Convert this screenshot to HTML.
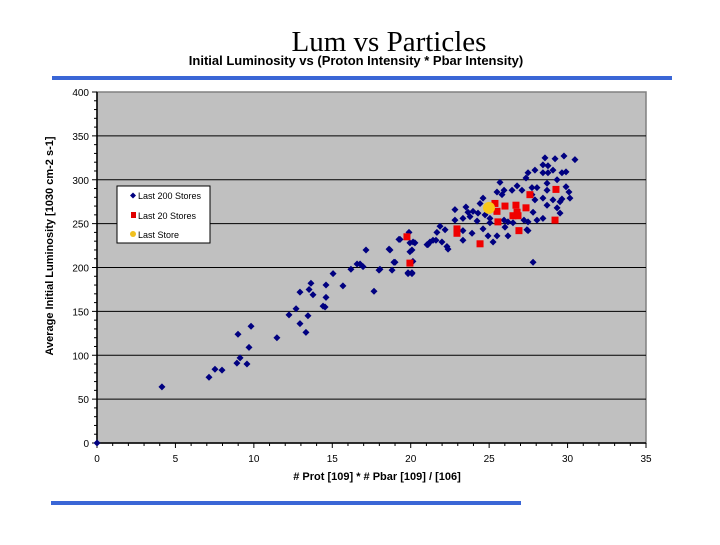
<!DOCTYPE html>
<html><head><meta charset="utf-8"><style>
body{margin:0;background:#fff;}
svg text{font-family:"Liberation Sans",Arial,sans-serif;}
</style></head><body>
<svg id="chart" width="720" height="540" viewBox="0 0 720 540" xmlns="http://www.w3.org/2000/svg">
<text x="389" y="51" text-anchor="middle" font-family="Liberation Serif" style="font-family:'Liberation Serif',serif" font-size="29">Lum vs Particles</text>
<text x="356" y="65" text-anchor="middle" font-size="13" font-weight="bold">Initial Luminosity  vs  (Proton Intensity * Pbar Intensity)</text>
<rect x="52" y="76" width="620" height="4" fill="#3a66d6"/>
<rect x="51" y="501" width="470" height="4" fill="#3a66d6"/>
<rect x="97" y="92" width="549" height="351" fill="#c0c0c0" stroke="#808080" stroke-width="1.5"/>
<g id="grid"></g><g id="axes"></g><g id="marks"></g>
<text transform="translate(53,246) rotate(-90)" text-anchor="middle" font-size="11" font-weight="bold">Average Initial Luminosity  [1030 cm-2 s-1]</text>
<text x="377" y="480" text-anchor="middle" font-size="11" font-weight="bold"># Prot  [109] * # Pbar [109] / [106]</text>
<g>
<rect x="117" y="186" width="93" height="57" fill="#fff" stroke="#000" stroke-width="1"/>
<path d="M133,192.5 l3,3 -3,3 -3,-3z" fill="#000080"/>
<text x="138" y="199" font-size="9">Last 200  Stores</text>
<rect x="131" y="212" width="5" height="6" fill="#e00000"/>
<text x="138" y="219" font-size="9">Last   20 Stores</text>
<circle cx="133" cy="234" r="3" fill="#f0c020"/>
<text x="138" y="238" font-size="9">Last Store</text>
</g>
</svg>
<script>
const blueX=[0,4.14,7.14,7.52,7.97,8.92,9.12,8.99,9.56,9.69,9.82,11.47,12.24,12.69,12.94,12.94,13.32,13.45,13.52,13.64,13.77,14.41,14.54,14.6,14.6,15.05,15.68,16.19,16.58,16.77,16.96,17.15,17.66,17.98,18.68,18.81,18.93,19.25,19.89,19.95,19.83,20.08,20.14,20.27,19.95,21.04,21.23,21.61,21.67,
28.56,29.2,29.77,30.47,28.43,28.75,29.07,29.64,29.9,28.43,28.75,29.33,27.48,27.92,27.35,25.69,26.78,27.73,28.05,28.69,28.69,29.9,30.09,30.15,29.64,29.52,25.5,25.82,25.95,26.46,27.09,27.73,27.92,28.43,28.69,29.07,29.33,29.52,28.43,28.05,24.61,24.42,23.52,22.82,23.65,23.97,24.29,23.78,23.33,22.82,24.23,24.74,25.05,25.05,25.95,26.01,26.2,26.52,27.22,27.48,27.8,27.41,21.87,22.19,23.33,23.91,24.61,24.93,25.5,25.25,26.2,27.48,21.1,21.42,21.99,22.31,22.38,23.33,18.62,19.32,20.15,20.08,19.0,18.04,19.83,20.08,27.8];
const blueY=[0,64,75,84,83,91,97,124,90,109,133,120,146,153,172,136,126,145,175,182,169,156,155,166,180,193,179,198,204,204,201,220,173,197,220,197,206,232,240,218,193,193,207,228,228,226,229,231,240,
325,324,327,323,317,316,311,308,309,308,308,300,308,311,302,297,293,291,291,296,288,292,286,279,278,275,286,283,288,288,288,283,277,279,271,277,268,262,256,254,279,273,269,266,263,264,262,258,256,254,253,260,256,251,254,246,252,251,254,252,263,243,247,243,242,239,244,236,236,229,236,242,226,231,229,224,221,231,221,232,229,220,206,198,194,194,206];
const redX=[19.76,19.95,22.95,22.95,24.42,25.37,25.5,25.56,26.01,26.71,26.78,26.52,26.84,26.9,27.35,27.6,29.26,29.2];
const redY=[235,205,244,239,227,273,264,252,270,271,263,259,259,242,268,283,289,254];
const lastX=[24.99];
const lastY=[268];
const xTicks=[0,5,10,15,20,25,30,35];
const yTicks=[0,50,100,150,200,250,300,350,400];
const NS="http://www.w3.org/2000/svg";
const X0=97,X1=646,Y0=443,Y1=92,XMAX=35,YMAX=400;
function sx(v){return X0+(X1-X0)*v/XMAX;}
function sy(v){return Y0-(Y0-Y1)*v/YMAX;}
function mk(tag,attrs,parent){const e=document.createElementNS(NS,tag);for(const k in attrs)e.setAttribute(k,attrs[k]);parent.appendChild(e);return e;}
const grid=document.getElementById('grid'),axes=document.getElementById('axes'),marks=document.getElementById('marks');
yTicks.forEach(t=>{
  if(t>0&&t<YMAX){const g=mk('line',{x1:X0,x2:X1,y1:sy(t),y2:sy(t),stroke:'#000','stroke-width':1},grid);
  
  }
  const tx=mk('text',{x:X0-8,y:sy(t)+4,'text-anchor':'end','font-size':10},axes);tx.textContent=t;
  
  
});
for(let v=0;v<=YMAX;v+=10){mk('line',{x1:X0-(v%50?3:5),x2:X0,y1:sy(v),y2:sy(v),stroke:'#000'},axes);}
for(let v=0;v<=XMAX;v+=1){mk('line',{x1:sx(v),x2:sx(v),y1:Y0,y2:Y0+(v%5?3:5),stroke:'#000'},axes);}
xTicks.forEach(t=>{const tx=mk('text',{x:sx(t),y:Y0+19,'text-anchor':'middle','font-size':10},axes);tx.textContent=t;
  
  });
mk('line',{x1:X0,x2:X0,y1:Y1,y2:Y0,stroke:'#000','stroke-width':1.5},axes);
mk('line',{x1:X0,x2:X1,y1:Y0,y2:Y0,stroke:'#000','stroke-width':1.5},axes);
blueX.forEach((v,i)=>{const x=sx(v),y=sy(blueY[i]);
  const p=mk('path',{d:`M${x},${y-3.5}L${x+3.5},${y}L${x},${y+3.5}L${x-3.5},${y}Z`,fill:'#000080'},marks);
  
  });
redX.forEach((v,i)=>{const r=mk('rect',{x:sx(v)-3.5,y:sy(redY[i])-3.5,width:7,height:7,fill:'#f00000'},marks);
  
  });
lastX.forEach((v,i)=>{const c=mk('circle',{cx:sx(v),cy:sy(lastY[i]),r:6,fill:'#f8c818'},marks);
  
  });
</script>
</body></html>
